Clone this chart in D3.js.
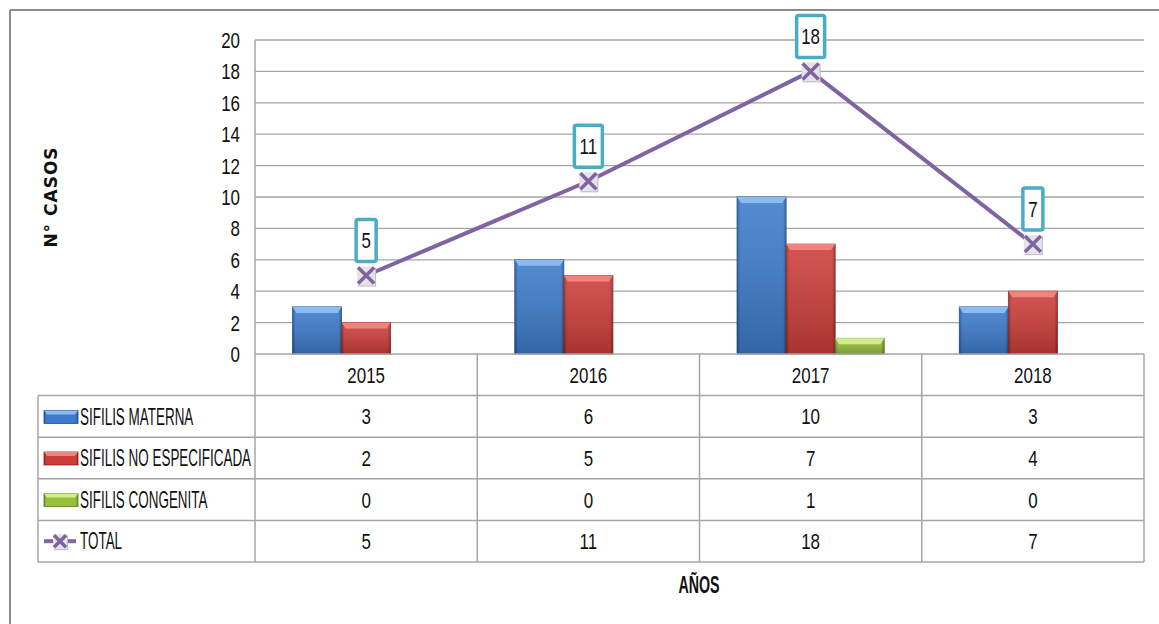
<!DOCTYPE html>
<html>
<head>
<meta charset="utf-8">
<script src="https://cdn.jsdelivr.net/npm/d3@7"></script>
<style>
  html, body { margin: 0; padding: 0; background: #fff; }
  svg { display: block; }
</style>
</head>
<body>
<svg id="chart" width="1159" height="624"></svg>
<script>
// Data
const years = ["2015", "2016", "2017", "2018"];
const sifilisMaterna = [3, 6, 10, 3];
const sifilisNoEspecificada = [2, 5, 7, 4];
const sifilisCongenita = [0, 0, 1, 0];
const total = [5, 11, 18, 7];
const seriesNames = ["SIFILIS MATERNA", "SIFILIS NO ESPECIFICADA", "SIFILIS CONGENITA", "TOTAL"];
const yTicks = [0, 2, 4, 6, 8, 10, 12, 14, 16, 18, 20];

const barSeries = [
  { name: seriesNames[0], values: sifilisMaterna, base: "#3C7BCB", light: "#8CBBF2", dark: "#1F4F8E" },
  { name: seriesNames[1], values: sifilisNoEspecificada, base: "#CC3D39", light: "#F2837E", dark: "#8A2522" },
  { name: seriesNames[2], values: sifilisCongenita, base: "#96BF3C", light: "#D2EE8C", dark: "#647F24" }
];
const lineColor = "#8064A2";
const labelBoxColor = "#4BACC6";
const gridColor = "#A6A6A6";
const FONT = "'Liberation Sans', Arial, sans-serif";

const svg = d3.select("#chart");
const defs = svg.append("defs");

// Condensed lettering: words and numbers are squeezed by different amounts
const styles = {
  word: { size: 23, squeeze: 0.585, weight: "normal" },
  num:  { size: 22, squeeze: 0.77, weight: "normal" },
  title:{ size: 23, squeeze: 0.62, weight: "bold" }
};
function ntext(g, px, py, str, anchor, kind) {
  const st = styles[kind || (/^[0-9]+$/.test(str) ? "num" : "word")];
  return g.append("text")
    .attr("transform", `translate(${px},${py}) scale(${st.squeeze},1)`)
    .attr("x", 0).attr("y", 0).attr("dy", "0.36em")
    .attr("text-anchor", anchor || "middle")
    .attr("font-family", FONT).attr("font-size", st.size)
    .attr("font-weight", st.weight)
    .attr("fill", "#111").text(str);
}

// Layout
const plot = { left: 255, right: 1144, top: 40, bottom: 354 };
const table = { left: 38, rowH: 41.6 };

const x = d3.scaleBand().domain(years).range([plot.left, plot.right]).paddingInner(0).paddingOuter(0);
const xs = d3.scaleBand().domain([0, 1, 2]).range([0, x.bandwidth()]).paddingOuter(0.765).paddingInner(0);
const y = d3.scaleLinear().domain([0, 20]).range([plot.bottom, plot.top]);

// Outer frame
svg.append("line").attr("x1", 10).attr("x2", 1159).attr("y1", 10).attr("y2", 10)
  .attr("stroke", "#8C8C8C").attr("stroke-width", 2);
svg.append("line").attr("x1", 10).attr("x2", 10).attr("y1", 10).attr("y2", 624)
  .attr("stroke", "#8C8C8C").attr("stroke-width", 2);

// Gradients for bevelled bars
barSeries.forEach((s, i) => {
  const g = defs.append("linearGradient").attr("id", "bar" + i).attr("x1", "0").attr("x2", "1").attr("y1", "0").attr("y2", "0");
  g.append("stop").attr("offset", "0%").attr("stop-color", s.dark);
  g.append("stop").attr("offset", "6%").attr("stop-color", s.base);
  g.append("stop").attr("offset", "94%").attr("stop-color", s.base);
  g.append("stop").attr("offset", "100%").attr("stop-color", s.dark);
  const v = defs.append("linearGradient").attr("id", "shade" + i).attr("x1", "0").attr("x2", "0").attr("y1", "0").attr("y2", "1");
  v.append("stop").attr("offset", "0%").attr("stop-color", "#fff").attr("stop-opacity", 0.12);
  v.append("stop").attr("offset", "100%").attr("stop-color", "#000").attr("stop-opacity", 0.18);
});

// Gridlines and y axis
svg.append("g").selectAll("line").data(yTicks.filter(d => d > 0)).join("line")
  .attr("x1", plot.left).attr("x2", plot.right)
  .attr("y1", d => y(d)).attr("y2", d => y(d))
  .attr("stroke", gridColor).attr("stroke-width", 1.3);
const yAxis = d3.axisLeft(y).tickValues(yTicks).tickSize(0).tickFormat(() => "");
const ya = svg.append("g").attr("transform", `translate(${plot.left},0)`).call(yAxis);
ya.select(".domain").remove();
yTicks.forEach(t => ntext(svg, 240, y(t), String(t), "end"));

// Bars
barSeries.forEach((s, i) => {
  const g = svg.append("g");
  years.forEach((yr, j) => {
    const v = s.values[j];
    if (v <= 0) return;
    const bx = x(yr) + xs(i), bw = xs.bandwidth();
    const by = y(v), bh = y(0) - y(v);
    g.append("rect").attr("x", bx).attr("y", by).attr("width", bw).attr("height", bh)
      .attr("fill", `url(#bar${i})`).attr("stroke", s.dark).attr("stroke-width", 0.8);
    g.append("rect").attr("x", bx).attr("y", by).attr("width", bw).attr("height", bh)
      .attr("fill", `url(#shade${i})`);
    // top bevel
    const t = Math.min(6, bh / 2);
    g.append("polygon")
      .attr("points", [[bx, by], [bx + bw, by], [bx + bw - 4, by + t], [bx + 4, by + t]].map(p => p.join(",")).join(" "))
      .attr("fill", s.light);
  });
});

// Total line
const cx = yr => x(yr) + x.bandwidth() / 2;
const line = d3.line().x((d, j) => cx(years[j])).y(d => y(d));
svg.append("path").datum(total).attr("d", line)
  .attr("fill", "none").attr("stroke", lineColor).attr("stroke-width", 4);

function drawMarker(g, px, py, s) {
  g.append("rect").attr("x", px - s / 2 + 1).attr("y", py - s / 2 + 1).attr("width", s).attr("height", s + 1)
    .attr("fill", "#BDBDBD");
  g.append("rect").attr("x", px - s / 2).attr("y", py - s / 2).attr("width", s).attr("height", s + 1)
    .attr("fill", "#E4E4E4");
  const h = s / 2 - 1;
  g.append("path").attr("d", `M${px - h},${py - h}L${px + h},${py + h}M${px + h},${py - h}L${px - h},${py + h}`)
    .attr("stroke", lineColor).attr("stroke-width", 3.5).attr("fill", "none");
}
const markers = svg.append("g");
total.forEach((v, j) => drawMarker(markers, cx(years[j]), y(v), 18));

// Value labels in boxes
const labels = svg.append("g");
total.forEach((v, j) => {
  const px = cx(years[j]), py = y(v);
  const w = String(v).length > 1 ? 28 : 20, h = 42;
  labels.append("rect").attr("x", px - w / 2).attr("y", py - 14 - h).attr("width", w).attr("height", h)
    .attr("rx", 2).attr("fill", "#fff").attr("stroke", labelBoxColor).attr("stroke-width", 3.5);
  ntext(labels, px, py - 14 - h / 2, String(v), "middle");
});

// Data table
const tg = svg.append("g");
const rowTop = i => plot.bottom + table.rowH * i;
const nRows = 5;
for (let i = 0; i <= nRows; i++) {
  tg.append("line").attr("x1", i === 0 ? plot.left : table.left).attr("x2", plot.right)
    .attr("y1", rowTop(i)).attr("y2", rowTop(i)).attr("stroke", gridColor).attr("stroke-width", 1.5);
}
tg.append("line").attr("x1", table.left).attr("x2", table.left).attr("y1", rowTop(1)).attr("y2", rowTop(nRows))
  .attr("stroke", gridColor).attr("stroke-width", 1.5);
tg.append("line").attr("x1", plot.left).attr("x2", plot.left).attr("y1", plot.top).attr("y2", rowTop(nRows))
  .attr("stroke", gridColor).attr("stroke-width", 1.5);
years.forEach(yr => {
  tg.append("line").attr("x1", x(yr) + x.bandwidth()).attr("x2", x(yr) + x.bandwidth())
    .attr("y1", plot.bottom).attr("y2", rowTop(nRows)).attr("stroke", gridColor).attr("stroke-width", 1.5);
});
years.forEach(yr => ntext(tg, cx(yr), rowTop(0) + table.rowH / 2, yr, "middle"));

const rowValues = [sifilisMaterna, sifilisNoEspecificada, sifilisCongenita, total];
rowValues.forEach((vals, r) => {
  const midY = rowTop(r + 1) + table.rowH / 2;
  vals.forEach((v, j) => ntext(tg, cx(years[j]), midY, String(v), "middle"));
  if (r < 3) {
    const s = barSeries[r];
    tg.append("rect").attr("x", 44).attr("y", midY - 6).attr("width", 34).attr("height", 13)
      .attr("fill", `url(#bar${r})`).attr("stroke", s.dark).attr("stroke-width", 0.8);
    tg.append("polygon")
      .attr("points", [[44, midY - 6], [78, midY - 6], [75, midY - 2], [47, midY - 2]].map(p => p.join(",")).join(" "))
      .attr("fill", s.light);
  } else {
    tg.append("line").attr("x1", 44).attr("x2", 76).attr("y1", midY).attr("y2", midY)
      .attr("stroke", lineColor).attr("stroke-width", 4);
    drawMarker(tg, 60, midY, 14);
  }
  ntext(tg, 80, midY, seriesNames[r], "start", "word");
});

// Axis titles
svg.append("text").attr("transform", "translate(51,197) rotate(-90)")
  .attr("text-anchor", "middle").attr("dy", "0.36em").attr("font-family", "'DejaVu Sans', sans-serif").attr("font-weight", "bold")
  .attr("font-size", 17).attr("letter-spacing", 1).attr("fill", "#111").text("N° CASOS");
ntext(svg, 699, 585, "AÑOS", "middle", "title");
</script>
</body>
</html>
